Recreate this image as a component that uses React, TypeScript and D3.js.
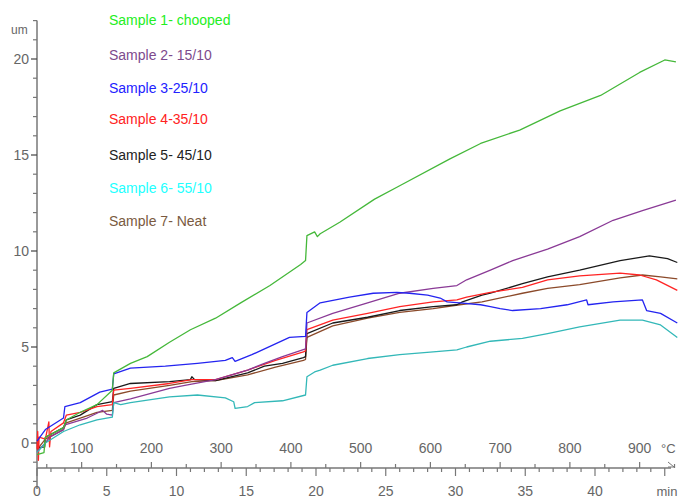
import React from "react";
import * as d3 from "d3";

type Pt = [number, number];

// time (min), displacement (um)
const sample1: Pt[] = [[0,-0.6],[0.5,-0.5],[0.6,0.3],[1.9,0.8],[2.1,1.2],[3.1,1.6],[4.3,2.0],[5.4,2.75],[5.5,3.65],[6.7,4.15],[7.9,4.5],[9.5,5.25],[11.0,5.9],[12.8,6.5],[14.6,7.3],[16.7,8.2],[18.9,9.3],[19.25,9.5],[19.35,10.8],[19.9,11.0],[20.1,10.75],[20.3,10.9],[21.7,11.5],[24.2,12.7],[26.0,13.4],[29.6,14.8],[31.8,15.6],[34.6,16.3],[37.5,17.3],[40.4,18.1],[43.2,19.3],[45.0,19.95],[45.8,19.85]];
const sample2: Pt[] = [[0,-0.45],[0.6,0],[0.9,0.3],[1.9,0.7],[2.0,0.95],[3.6,1.3],[4.3,1.55],[4.7,1.7],[5.0,1.5],[5.4,1.45],[5.5,2.1],[6.7,2.3],[9.5,2.85],[10.6,3.0],[12.8,3.3],[15.1,3.8],[16.3,4.15],[17.6,4.5],[19.25,4.9],[19.35,6.25],[21.2,6.75],[23.7,7.3],[26.0,7.8],[28.4,8.05],[30.1,8.2],[30.8,8.5],[32.5,9.0],[34.1,9.5],[36.6,10.1],[38.9,10.75],[41.3,11.6],[43.4,12.1],[45.8,12.65]];
const sample3: Pt[] = [[0,0.1],[0.6,0.7],[1.9,1.3],[2.0,1.9],[3.1,2.1],[4.5,2.65],[5.4,2.8],[5.5,3.6],[6.7,3.9],[9.2,4.0],[11.5,4.15],[13.5,4.3],[14.0,4.45],[14.2,4.25],[15.4,4.6],[18.1,5.5],[19.25,5.55],[19.35,6.8],[20.3,7.3],[22.4,7.6],[24.1,7.8],[25.8,7.85],[26.7,7.8],[28.0,7.7],[28.9,7.55],[29.4,7.35],[30.3,7.3],[31.8,7.2],[32.5,7.1],[33.2,7.0],[34.1,6.9],[36.1,7.0],[38.0,7.2],[39.4,7.45],[39.5,7.2],[41.3,7.35],[43.4,7.45],[43.7,6.9],[44.7,6.75],[45.9,6.25]];
const sample4: Pt[] = [[0,-0.3],[0.05,0.6],[0.1,-0.9],[0.15,0.3],[0.6,0.2],[0.85,1.1],[0.9,-0.2],[1.0,0.6],[1.9,1.05],[2.1,1.45],[3.1,1.6],[4.3,1.9],[5.4,2.0],[5.5,2.75],[6.7,2.85],[9.5,3.1],[11.1,3.3],[12.8,3.3],[15.1,3.8],[17.1,4.3],[19.1,4.75],[19.25,4.8],[19.35,5.9],[21.2,6.4],[23.7,6.75],[26.0,7.1],[28.4,7.35],[30.1,7.45],[30.8,7.6],[32.5,7.85],[34.8,8.1],[36.6,8.5],[38.9,8.7],[41.8,8.85],[43.2,8.75],[44.4,8.5],[45.9,7.95]];
const sample5: Pt[] = [[0,-0.25],[0.55,-0.2],[0.6,0.3],[1.9,0.8],[2.1,1.2],[3.1,1.45],[4.3,2.0],[5.4,2.15],[5.5,2.85],[6.7,3.1],[9.5,3.2],[11.0,3.3],[11.1,3.45],[11.3,3.3],[12.8,3.25],[15.1,3.65],[16.3,4.0],[17.6,4.15],[19.1,4.45],[19.25,4.5],[19.35,5.7],[21.2,6.25],[23.7,6.55],[26.0,6.9],[28.4,7.1],[30.1,7.2],[30.5,7.35],[31.9,7.7],[32.5,7.8],[34.8,8.3],[36.6,8.65],[38.9,9.0],[41.8,9.5],[43.9,9.75],[45.2,9.6],[45.9,9.4]];
const sample6: Pt[] = [[0,-0.5],[0.6,0.0],[1.9,0.6],[3.1,0.95],[4.3,1.2],[5.4,1.35],[5.5,2.1],[6.0,2.0],[6.7,2.1],[9.5,2.4],[11.5,2.5],[13.5,2.35],[14.1,2.15],[14.2,1.8],[15.1,1.9],[15.6,2.1],[17.6,2.2],[19.25,2.5],[19.35,3.45],[19.9,3.7],[20.3,3.8],[21.2,4.05],[23.7,4.4],[26.0,4.6],[28.4,4.75],[30.1,4.85],[30.8,5.0],[32.5,5.3],[34.8,5.45],[36.6,5.7],[38.9,6.05],[41.8,6.4],[43.4,6.4],[44.7,6.15],[45.9,5.5]];
const sample7: Pt[] = [[0,-0.35],[0.6,0.2],[1.9,0.7],[2.1,1.05],[3.1,1.3],[4.3,1.6],[5.4,1.7],[5.5,2.5],[6.7,2.7],[9.5,3.0],[11.1,3.2],[12.8,3.25],[15.1,3.55],[17.1,3.95],[19.1,4.3],[19.25,4.35],[19.35,5.5],[21.2,6.1],[23.7,6.5],[26.0,6.8],[28.4,7.0],[30.3,7.2],[31.9,7.35],[34.8,7.8],[36.6,8.05],[38.9,8.25],[41.8,8.6],[43.4,8.75],[44.7,8.65],[45.9,8.55]];

const legendLabels = ["Sample 1- chooped","Sample 2- 15/10","Sample 3-25/10","Sample 4-35/10","Sample 5- 45/10","Sample 6- 55/10","Sample 7- Neat"];
const legendColors = ["#22ee22","#7d4a8d","#2222ff","#ff2222","#222222","#22ffff","#7a5a40"];
const lineColors = ["#45b83a","#8a3a96","#2424f0","#ff2424","#1a1a1a","#33b8b8","#8b4a2a"];
const yTickLabels = [0,5,10,15,20];
const timeTickLabels = [0,5,10,15,20,25,30,35,40];
const tempTickLabels = [100,200,300,400,500,600,700,800,900];

const series = [sample1,sample2,sample3,sample4,sample5,sample6,sample7];
const drawOrder = [6,4,3,1,2,5,0];

export default function App() {
  const x = d3.scaleLinear().domain([0, 40]).range([37, 595]);
  const y = d3.scaleLinear().domain([0, 20]).range([443, 59]);
  const tempX = d3.scaleLinear().domain([36, 956]).range([x(0), x(46)]);
  const line = d3.line<Pt>().x(d => x(d[0])).y(d => y(d[1]));
  const axisY = 468;
  const axisColor = "#777";
  const tickFont = "'Liberation Sans Narrow', 'Liberation Sans', Arial, sans-serif";

  const yMinor = d3.range(-2, 23);
  const timeMinor = d3.range(0, 46);
  const tempMinor = d3.range(50, 951, 50);

  return (
    <svg width={678} height={499} style={{ position: "absolute", left: 0, top: 0, background: "#fff" }}>
      {/* Y axis */}
      <line x1={x(0)} x2={x(0)} y1={y(22)} y2={y(-2.4)} stroke={axisColor} strokeWidth={1.5} />
      {yMinor.map(v => (
        <line key={"yt" + v} x1={x(0) - (v % 5 === 0 ? 6 : 4)} x2={x(0)} y1={y(v)} y2={y(v)} stroke={v % 5 === 0 ? "#444" : axisColor} strokeWidth={1.2} />
      ))}
      {yTickLabels.map(v => (
        <text key={"yl" + v} x={x(0) - 8} y={y(v) + 5} textAnchor="end" fontSize={14} fill="#666" fontFamily={tickFont}>{v}</text>
      ))}
      <text x={11} y={34} fontSize={12} fill="#666" fontFamily={tickFont}>um</text>

      {/* X axis */}
      <line x1={x(0)} x2={671} y1={axisY} y2={axisY} stroke={axisColor} strokeWidth={1.5} />
      <path d={`M${668},${axisY - 6} L${674},${axisY - 1} L${668},${axisY - 1}`} fill="none" stroke={axisColor} strokeWidth={1} />
      {timeMinor.map(v => (
        <line key={"xt" + v} x1={x(v)} x2={x(v)} y1={axisY} y2={axisY + (v % 5 === 0 ? 8 : 4)} stroke={axisColor} strokeWidth={1.2} />
      ))}
      {tempMinor.map(v => (
        <line key={"tt" + v} x1={tempX(v)} x2={tempX(v)} y1={axisY} y2={axisY - (v % 100 === 0 ? 6 : 4)} stroke={axisColor} strokeWidth={1.2} />
      ))}
      {timeTickLabels.map(v => (
        <text key={"xl" + v} x={x(v)} y={496} textAnchor="middle" fontSize={14} fill="#666" fontFamily={tickFont}>{v}</text>
      ))}
      {tempTickLabels.map(v => (
        <text key={"tl" + v} x={tempX(v)} y={453} textAnchor="middle" fontSize={14} fill="#666" fontFamily={tickFont}>{v}</text>
      ))}
      <text x={661} y={453} fontSize={13} fill="#666" fontFamily={tickFont}>°C</text>
      <text x={667} y={496} textAnchor="middle" fontSize={13} fill="#666" fontFamily={tickFont}>min</text>

      {/* Lines */}
      {drawOrder.map(i => (
        <path key={"s" + i} d={line(series[i]) || ""} fill="none" stroke={lineColors[i]} strokeWidth={1.3} strokeLinejoin="round" />
      ))}

      {/* Legend */}
      {legendLabels.map((lab, i) => (
        <text key={"lg" + i} x={109} y={[25, 60, 93, 124, 160, 193, 226][i]} fontSize={14} fill={legendColors[i]} fontFamily="'Liberation Sans', Arial, sans-serif">{lab}</text>
      ))}
    </svg>
  );
}
